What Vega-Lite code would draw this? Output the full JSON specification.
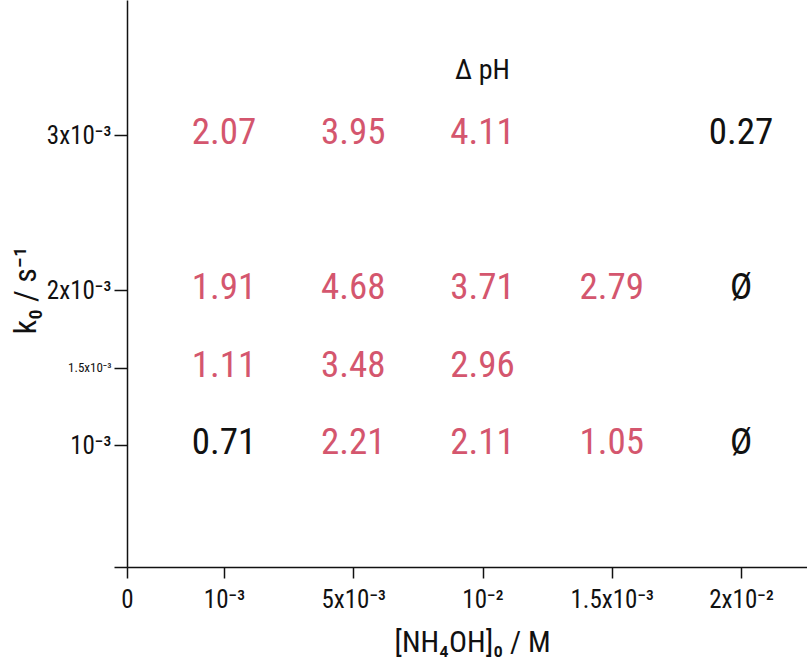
{
  "$schema": "https://vega.github.io/schema/vega-lite/v6.json",
  "width": 680,
  "height": 567,
  "autosize": {"type": "none"},
  "padding": {"left": 127, "top": 0, "right": 0, "bottom": 97},
  "background": "white",
  "config": {
    "view": {"stroke": null},
    "font": "Roboto Condensed, Liberation Sans, Arial, sans-serif"
  },
  "datasets": {
    "cells": [
      {"col": 1, "conc": "1e-3", "k": 0.003, "value": "2.07", "group": "highlighted"},
      {"col": 1, "conc": "1e-3", "k": 0.002, "value": "1.91", "group": "highlighted"},
      {"col": 1, "conc": "1e-3", "k": 0.0015, "value": "1.11", "group": "highlighted"},
      {"col": 1, "conc": "1e-3", "k": 0.001, "value": "0.71", "group": "plain"},
      {"col": 2, "conc": "5e-3", "k": 0.003, "value": "3.95", "group": "highlighted"},
      {"col": 2, "conc": "5e-3", "k": 0.002, "value": "4.68", "group": "highlighted"},
      {"col": 2, "conc": "5e-3", "k": 0.0015, "value": "3.48", "group": "highlighted"},
      {"col": 2, "conc": "5e-3", "k": 0.001, "value": "2.21", "group": "highlighted"},
      {"col": 3, "conc": "1e-2", "k": 0.003, "value": "4.11", "group": "highlighted"},
      {"col": 3, "conc": "1e-2", "k": 0.002, "value": "3.71", "group": "highlighted"},
      {"col": 3, "conc": "1e-2", "k": 0.0015, "value": "2.96", "group": "highlighted"},
      {"col": 3, "conc": "1e-2", "k": 0.001, "value": "2.11", "group": "highlighted"},
      {"col": 4, "conc": "1.5e-3", "k": 0.002, "value": "2.79", "group": "highlighted"},
      {"col": 4, "conc": "1.5e-3", "k": 0.001, "value": "1.05", "group": "highlighted"},
      {"col": 5, "conc": "2e-2", "k": 0.003, "value": "0.27", "group": "plain"},
      {"col": 5, "conc": "2e-2", "k": 0.002, "value": "Ø", "group": "plain"},
      {"col": 5, "conc": "2e-2", "k": 0.001, "value": "Ø", "group": "plain"}
    ],
    "header": [
      {"col": 3, "k": 0.00341, "label": "Δ pH"}
    ]
  },
  "layer": [
    {
      "data": {"name": "cells"},
      "mark": {"type": "text", "fontSize": 37, "align": "center", "baseline": "middle", "dy": -2},
      "encoding": {
        "x": {
          "field": "col",
          "type": "quantitative",
          "scale": {"domain": [0.25, 5.51], "nice": false, "zero": false},
          "axis": {
            "values": [0.25, 1, 2, 3, 4, 5],
            "labelExpr": "datum.value < 0.5 ? '0' : datum.value < 1.5 ? '10⁻³' : datum.value < 2.5 ? '5x10⁻³' : datum.value < 3.5 ? '10⁻²' : datum.value < 4.5 ? '1.5x10⁻³' : '2x10⁻²'",
            "grid": false,
            "domainColor": "#111111",
            "domainWidth": 1.5,
            "tickColor": "#111111",
            "tickWidth": 1.5,
            "tickSize": 11,
            "labelFontSize": 25,
            "labelColor": "#111111",
            "labelPadding": 9,
            "labelFlush": false,
            "labelOverlap": false,
            "title": "[NH₄OH]₀ / M",
            "titleFontSize": 30,
            "titleFontWeight": "normal",
            "titleColor": "#111111",
            "titleX": 345,
            "titleY": 75,
            "titleBaseline": "middle"
          }
        },
        "y": {
          "field": "k",
          "type": "quantitative",
          "scale": {"domain": [0.000213, 0.003871], "nice": false, "zero": false},
          "axis": {
            "values": [0.000213, 0.001, 0.0015, 0.002, 0.003],
            "labelExpr": "datum.value < 0.0005 ? '' : datum.value < 0.00125 ? '10⁻³' : datum.value < 0.00175 ? '1.5x10⁻³' : datum.value < 0.0025 ? '2x10⁻³' : '3x10⁻³'",
            "grid": false,
            "domainColor": "#111111",
            "domainWidth": 1.5,
            "tickColor": "#111111",
            "tickWidth": 1.5,
            "tickSize": 13,
            "labelFontSize": {"condition": {"test": "datum.value > 0.00125 && datum.value < 0.00175", "value": 13}, "value": 25},
            "labelColor": "#111111",
            "labelPadding": 3,
            "labelFlush": false,
            "labelOverlap": false,
            "title": "k₀ / s⁻¹",
            "titleFontSize": 32,
            "titleFontWeight": "normal",
            "titleColor": "#111111",
            "titleX": -102,
            "titleY": 290,
            "titleBaseline": "middle"
          }
        },
        "text": {"field": "value"},
        "color": {
          "field": "group",
          "type": "nominal",
          "scale": {"domain": ["highlighted", "plain"], "range": ["#d4566e", "#111111"]},
          "legend": null
        }
      }
    },
    {
      "data": {"name": "header"},
      "mark": {"type": "text", "fontSize": 28, "align": "center", "baseline": "middle", "color": "#111111"},
      "encoding": {
        "x": {"field": "col", "type": "quantitative"},
        "y": {"field": "k", "type": "quantitative"},
        "text": {"field": "label"}
      }
    }
  ]
}
